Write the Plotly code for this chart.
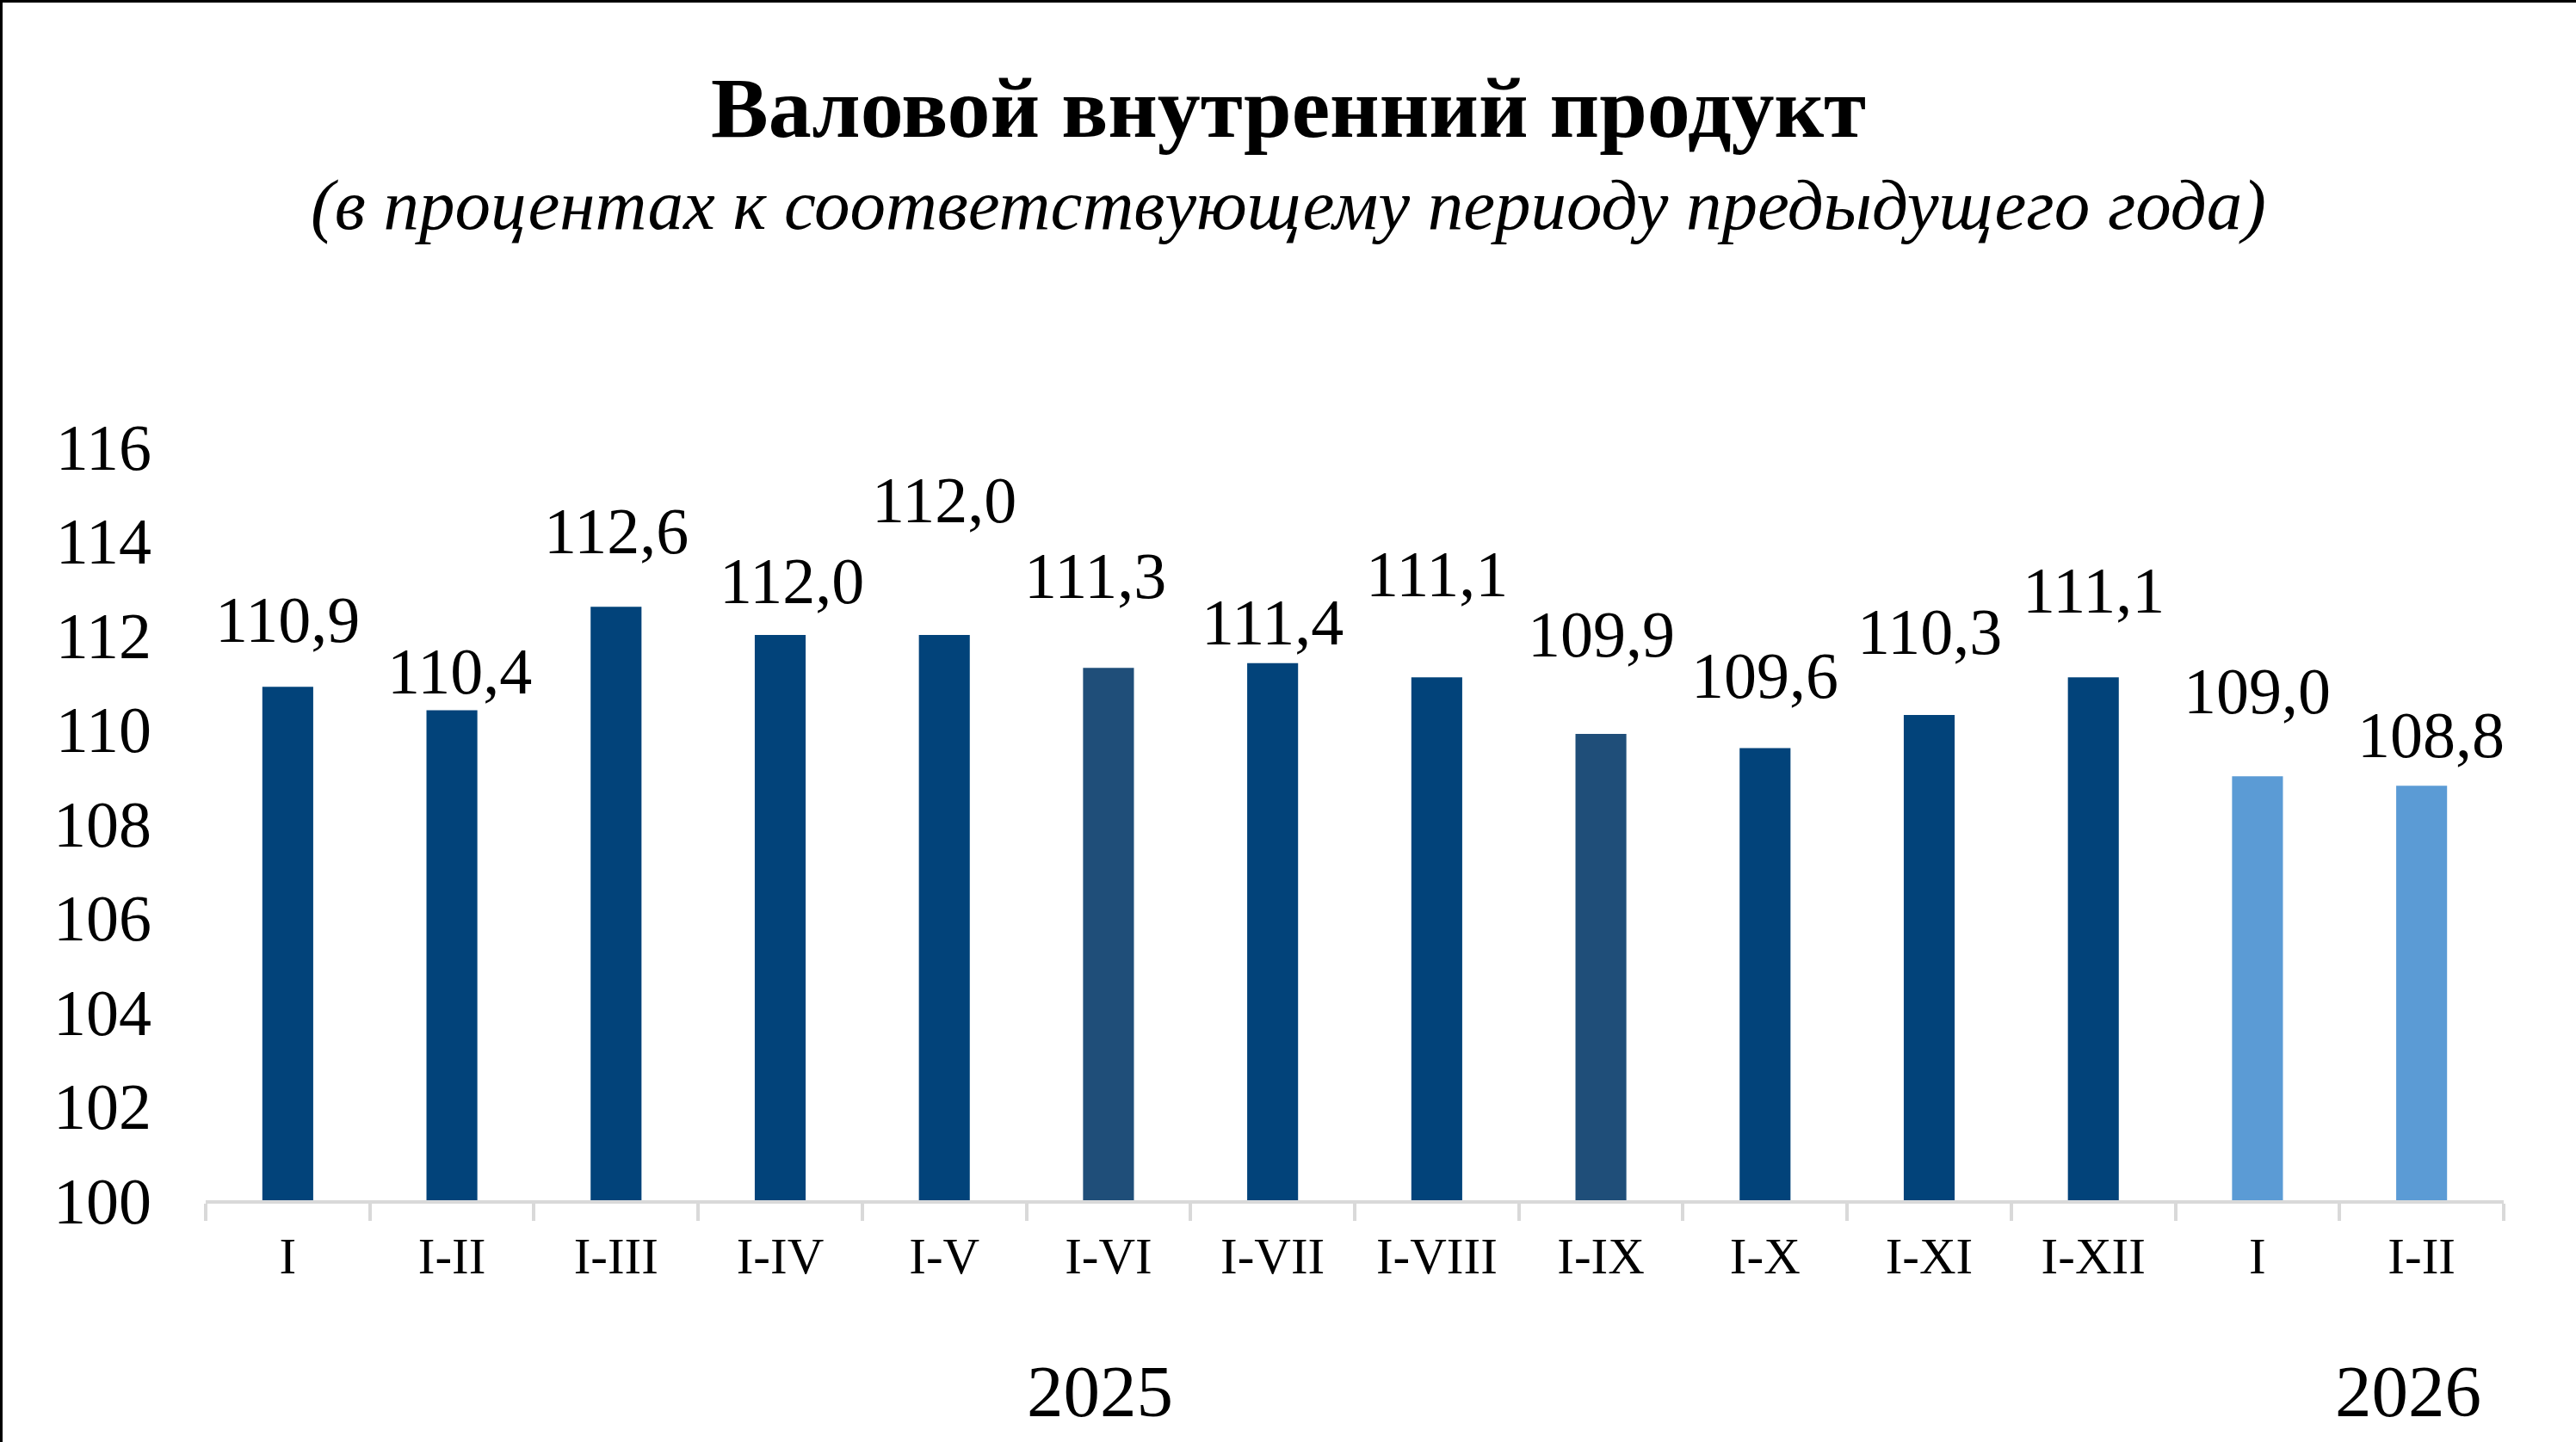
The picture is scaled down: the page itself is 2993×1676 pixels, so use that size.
import plotly.graph_objects as go

# ---------------- data ----------------
periods = ["I", "I-II", "I-III", "I-IV", "I-V", "I-VI", "I-VII", "I-VIII",
           "I-IX", "I-X", "I-XI", "I-XII", "I", "I-II"]
years = ["2025"] * 12 + ["2026"] * 2
gdp_index = [110.9, 110.4, 112.6, 112.0, 112.0, 111.3, 111.4, 111.1,
             109.9, 109.6, 110.3, 111.1, 109.0, 108.8]
y_ticks = [100, 102, 104, 106, 108, 110, 112, 114, 116]
title_text = "Валовой внутренний продукт"
subtitle_text = "(в процентах к соответствующему периоду предыдущего года)"
year_labels = ["2025", "2026"]

# ---------------- style ----------------
W, H = 2993, 1676
ML, MR, MT, MB = 239, 84, 519, 281
FONT = "Liberation Serif, Times New Roman, serif"
DARK = "#02437A"
DARK2 = "#1F4E79"
LIGHT = "#5B9BD5"
bar_colors = [DARK, DARK, DARK, DARK, DARK, DARK2, DARK, DARK,
              DARK2, DARK, DARK, DARK, LIGHT, LIGHT]
# vertical offsets (px) of each value label above its bar top (manual placement as in original)
label_shift = [78, 46, 88, 63, 157, 107, 48, 120, 116, 84, 97, 101, 99, 59]
label_dx = [0, 9, 0, 13, 0, -15, 0, 0, 0, 0, 0, 0, 0, 11]
# horizontal positions (category units) of year captions
year_pos = [4.95, 12.92]

x_idx = list(range(len(periods)))

fig = go.Figure()
fig.add_trace(go.Bar(
    x=x_idx, y=gdp_index,
    marker=dict(color=bar_colors, line=dict(width=0)),
    width=0.31, hoverinfo="skip",
))

for i, v in enumerate(gdp_index):
    fig.add_annotation(
        x=i, y=v, xref="x", yref="y",
        text=f"{v:.1f}".replace(".", ","),
        showarrow=False, yanchor="middle", xanchor="center",
        yshift=label_shift[i], xshift=label_dx[i],
        font=dict(family=FONT, size=76, color="#000000"),
    )

for txt, xp in zip(year_labels, year_pos):
    fig.add_annotation(
        x=xp, y=0, xref="x", yref="paper", yshift=-222,
        text=txt, showarrow=False, yanchor="middle", xanchor="center",
        font=dict(family=FONT, size=85, color="#000000"),
    )

pw, ph = W - ML - MR, H - MT - MB

# title & subtitle
fig.add_annotation(
    text="<b>" + title_text + "</b>", showarrow=False,
    xref="paper", yref="paper",
    x=(W / 2 - ML) / pw, y=1 + (MT - 125) / ph,
    xanchor="center", yanchor="middle",
    font=dict(family=FONT, size=100, color="#000000"),
)
fig.add_annotation(
    text="<i>" + subtitle_text + "</i>", showarrow=False,
    xref="paper", yref="paper",
    x=(W / 2 - ML) / pw, y=1 + (MT - 238) / ph,
    xanchor="center", yanchor="middle",
    font=dict(family=FONT, size=83, color="#000000"),
)

# frame lines (top and left of the picture)
fig.add_shape(type="line", xref="paper", yref="paper",
              x0=-ML / pw, x1=1 + MR / pw, y0=1 + (MT - 1.5) / ph, y1=1 + (MT - 1.5) / ph,
              line=dict(color="#000000", width=3))
fig.add_shape(type="line", xref="paper", yref="paper",
              x0=-(ML - 1.5) / pw, x1=-(ML - 1.5) / pw, y0=-MB / ph, y1=1 + MT / ph,
              line=dict(color="#000000", width=3))

fig.update_layout(
    width=W, height=H,
    margin=dict(l=ML, r=MR, t=MT, b=MB, pad=0),
    paper_bgcolor="white", plot_bgcolor="white",
    showlegend=False,
    xaxis=dict(
        range=[-0.5, len(periods) - 0.5],
        tickmode="array", tickvals=x_idx, ticktext=periods,
        ticks="", showgrid=False, zeroline=False,
        showline=True, linecolor="#D9D9D9", linewidth=4,
        tickfont=dict(family=FONT, size=59, color="#000000"),
        ticklabelstandoff=10,
        minor=dict(tick0=-0.5, dtick=1, ticks="outside", ticklen=20,
                   tickwidth=4, tickcolor="#D9D9D9", showgrid=False),
        fixedrange=True,
    ),
    yaxis=dict(
        range=[100, 116], tickmode="array", tickvals=y_ticks,
        ticktext=[str(t) for t in y_ticks],
        showgrid=False, zeroline=False, showline=False, ticks="",
        tickfont=dict(family=FONT, size=76, color="#000000"),
        ticklabelstandoff=62,
        fixedrange=True,
    ),
)

fig.write_html("out.html", config={"displayModeBar": False},
               post_script="document.body.style.margin='0';")
